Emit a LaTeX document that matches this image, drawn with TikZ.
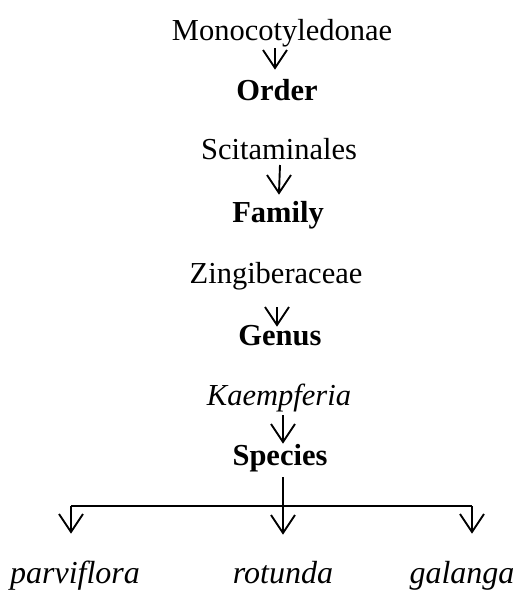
\documentclass[tikz,border=0pt]{standalone}
\usepackage{fontspec}
\setmainfont{Liberation Serif}
\begin{document}
\begin{tikzpicture}[x=1pt,y=-1pt,
  lbl/.style={anchor=base,inner sep=0pt,font=\fontsize{30.5}{36}\selectfont},
  rank/.style={lbl,font=\fontsize{30.5}{36}\selectfont\bfseries},
  taxon/.style={lbl,font=\fontsize{30.5}{36}\selectfont\itshape},
  leaf/.style={lbl,font=\fontsize{32}{38}\selectfont\itshape},
  conn/.style={line width=1.9pt},
  % open V head drawn at the target end of a downward connector
  vhead/.style={conn,line join=miter,to path={(\tikztostart) -- (\tikztotarget)
      (\tikztotarget) +(-12pt,18pt) -- (\tikztotarget) -- +(12pt,18pt)}}]
\useasboundingbox (0,0) rectangle (519,590);

% main chain of ranks
\node[lbl]   (mono)  at (282,40)  {Monocotyledonae};
\node[rank]  (order) at (277,100) {Order};
\node[lbl]   (scit)  at (279,159) {Scitaminales};
\node[rank]  (fam)   at (278,222) {Family};
\node[lbl]   (zing)  at (276,283) {Zingiberaceae};
\node[rank]  (genus) at (280,345) {Genus};
\node[taxon] (kaem)  at (279,405) {Kaempferia};
\node[rank]  (spec)  at (280,465) {Species};

% species
\node[leaf] (parv) at (75,583)  {parviflora};
\node[leaf] (rot)  at (283,583) {rotunda};
\node[leaf] (gal)  at (462,583) {galanga};

% arrows between ranks
\draw[vhead] ([xshift=-7pt,yshift=-8pt]mono.base) to ([xshift=-2pt,yshift=32pt]order.base);
\draw[vhead] ([xshift=1pt,yshift=-6pt]scit.base) to ([xshift=1pt,yshift=29pt]fam.base);
\draw[vhead] ([xshift=1pt,yshift=-24pt]zing.base) to ([xshift=-3pt,yshift=20pt]genus.base);
\draw[vhead] ([xshift=4pt,yshift=-10pt]kaem.base) to ([xshift=3pt,yshift=23pt]spec.base);

% branching to the species
\coordinate (split) at (283,506);
\coordinate (lend) at (71,506);
\coordinate (rend) at (472,506);
\draw[conn] ([xshift=3pt,yshift=-12pt]spec.base) -- (split);
\draw[conn] (lend) -- (rend);
\draw[vhead] (split) to ([yshift=50pt]rot.base);
\draw[vhead] (lend) to ([xshift=-4pt,yshift=51pt]parv.base);
\draw[vhead] (rend) to ([xshift=10pt,yshift=51pt]gal.base);
\end{tikzpicture}
\end{document}
